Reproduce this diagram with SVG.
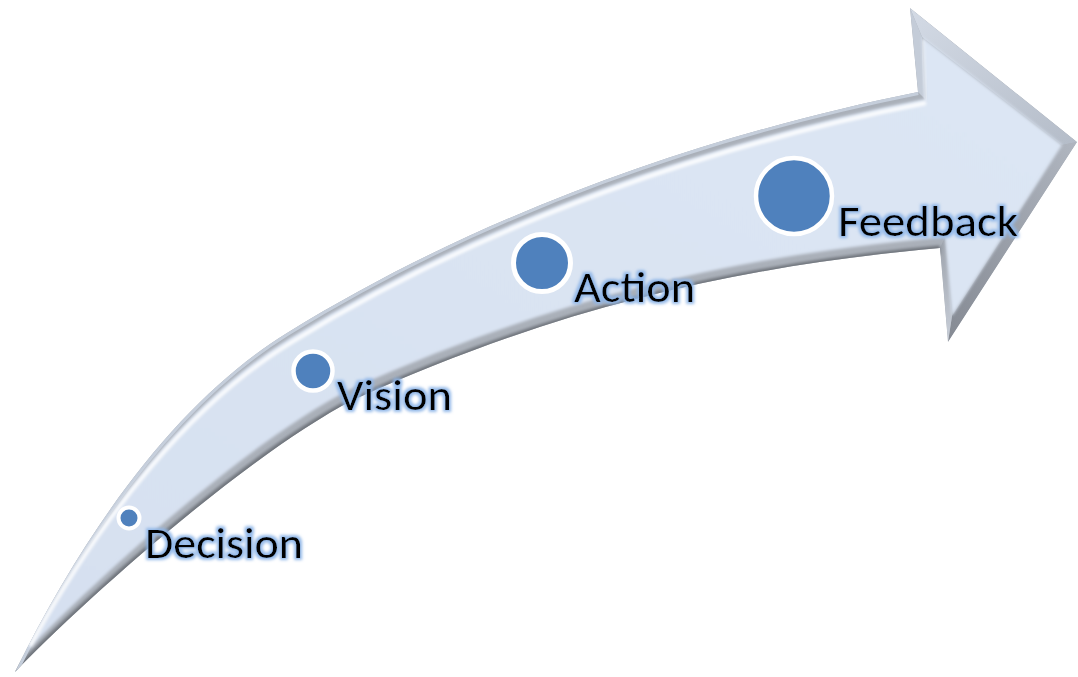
<svg xmlns="http://www.w3.org/2000/svg" width="1078" height="677" viewBox="0 0 1078 677">
  <defs>
    <style>
      .lbl { font-family: Carlito, Calibri, Lato, "Open Sans", sans-serif; font-size: 44px; fill: #050505; filter: url(#glow); }
      .dot { fill: #4f81bd; stroke: #ffffff; }
    </style>
    <filter id="glow" x="-10%" y="-30%" width="120%" height="160%">
      <feMorphology in="SourceAlpha" operator="dilate" radius="1.6" result="d"/>
      <feGaussianBlur in="d" stdDeviation="1.6" result="b"/>
      <feFlood flood-color="#8fb6e8" flood-opacity="0.95"/>
      <feComposite in2="b" operator="in" result="g"/>
      <feMerge><feMergeNode in="g"/><feMergeNode in="SourceGraphic"/></feMerge>
    </filter>
    <filter id="soft" x="-5%" y="-5%" width="110%" height="110%">
      <feGaussianBlur stdDeviation="1.8"/>
    </filter>
    <filter id="soft2" x="-5%" y="-5%" width="110%" height="110%">
      <feGaussianBlur stdDeviation="3"/>
    </filter>
    <clipPath id="outerClip">
      <path d="M15,672 C95,510 187,395 287,333 C487,209 718,132 918,92 L910,8 L1077,142 L948,342 L940,248 C740,266 560,306 353,400 C243,457 75,609 15,672 Z"/>
    </clipPath>
    <linearGradient id="topFacet" x1="0" y1="0" x2="1" y2="1">
      <stop offset="0" stop-color="#d3dae5"/>
      <stop offset="1" stop-color="#b4bcc8"/>
    </linearGradient>
    <linearGradient id="botFacet" x1="1" y1="0" x2="0" y2="1">
      <stop offset="0" stop-color="#b0b6c0"/>
      <stop offset="1" stop-color="#858a93"/>
    </linearGradient>
    <linearGradient id="backBot" x1="0" y1="0" x2="0" y2="1">
      <stop offset="0" stop-color="#9ca2ab"/>
      <stop offset="1" stop-color="#c9cfd9"/>
    </linearGradient>
    <linearGradient id="bodyFill" x1="0" y1="1" x2="1" y2="0">
      <stop offset="0" stop-color="#d6e0f0"/>
      <stop offset="1" stop-color="#dce6f4"/>
    </linearGradient>
  </defs>

  <rect width="1078" height="677" fill="#ffffff"/>

  <g id="connectors">
    <g id="arrow">
      <path d="M15,672 C95,510 187,395 287,333 C487,209 718,132 918,92 L910,8 L1077,142 L948,342 L940,248 C740,266 560,306 353,400 C243,457 75,609 15,672 Z" fill="#aab0b9"/>
      <g clip-path="url(#outerClip)">
        <polygon points="910,8 1077,142 1062,145 922,37" fill="url(#topFacet)"/>
        <polygon points="910,8 922,37 925,99 918,92" fill="#c4ccd8"/>
        <polygon points="1077,142 948,342 952,316 1062,145" fill="url(#botFacet)"/>
        <polygon points="940,248 948,342 952,316 945,237" fill="url(#backBot)"/>
        <path d="M940,250 C740,268 560,308 353,402 C243,459 75,611 15,674" fill="none" stroke="#6f747c" stroke-width="9" filter="url(#soft)"/>
        <path d="M15,672 C95,510 187,395 287,333 C487,209 718,132 918,92" fill="none" stroke="#c5cedb" stroke-width="6"/>
        <path d="M26,652 C100,512 191,398 290,338 C490,215 720,139 925,99 L922,37 L1062,145 L952,316 L945,237 C742,255 558,296 351,389 C242,444 85,590 26,652 Z" fill="url(#bodyFill)" filter="url(#soft)"/>
        <path d="M30,646 C102,514 193,402 292,342 C491,219 721,143 926,103" fill="none" stroke="#ffffff" stroke-width="4" opacity="0.9" filter="url(#soft)"/>
        <path d="M926,100 L923,40" fill="none" stroke="#ffffff" stroke-width="2" opacity="0.6" filter="url(#soft)"/>
      </g>
    </g>
  </g>

  <g id="decision">
    <circle class="dot" cx="129" cy="518" r="10.5" stroke-width="4"/>
    <text class="lbl" x="145" y="558" textLength="158" lengthAdjust="spacingAndGlyphs">Decision</text>
  </g>
  <g id="vision">
    <circle class="dot" cx="313" cy="371" r="19.5" stroke-width="4.5"/>
    <text class="lbl" x="337" y="410" textLength="115" lengthAdjust="spacingAndGlyphs">Vision</text>
  </g>
  <g id="action">
    <circle class="dot" cx="542" cy="263" r="28.5" stroke-width="5"/>
    <text class="lbl" x="574" y="302" textLength="121" lengthAdjust="spacingAndGlyphs">Action</text>
  </g>
  <g id="feedback">
    <circle class="dot" cx="794" cy="196" r="38" stroke-width="4.5"/>
    <text class="lbl" x="838" y="236" textLength="180" lengthAdjust="spacingAndGlyphs">Feedback</text>
  </g>
</svg>
